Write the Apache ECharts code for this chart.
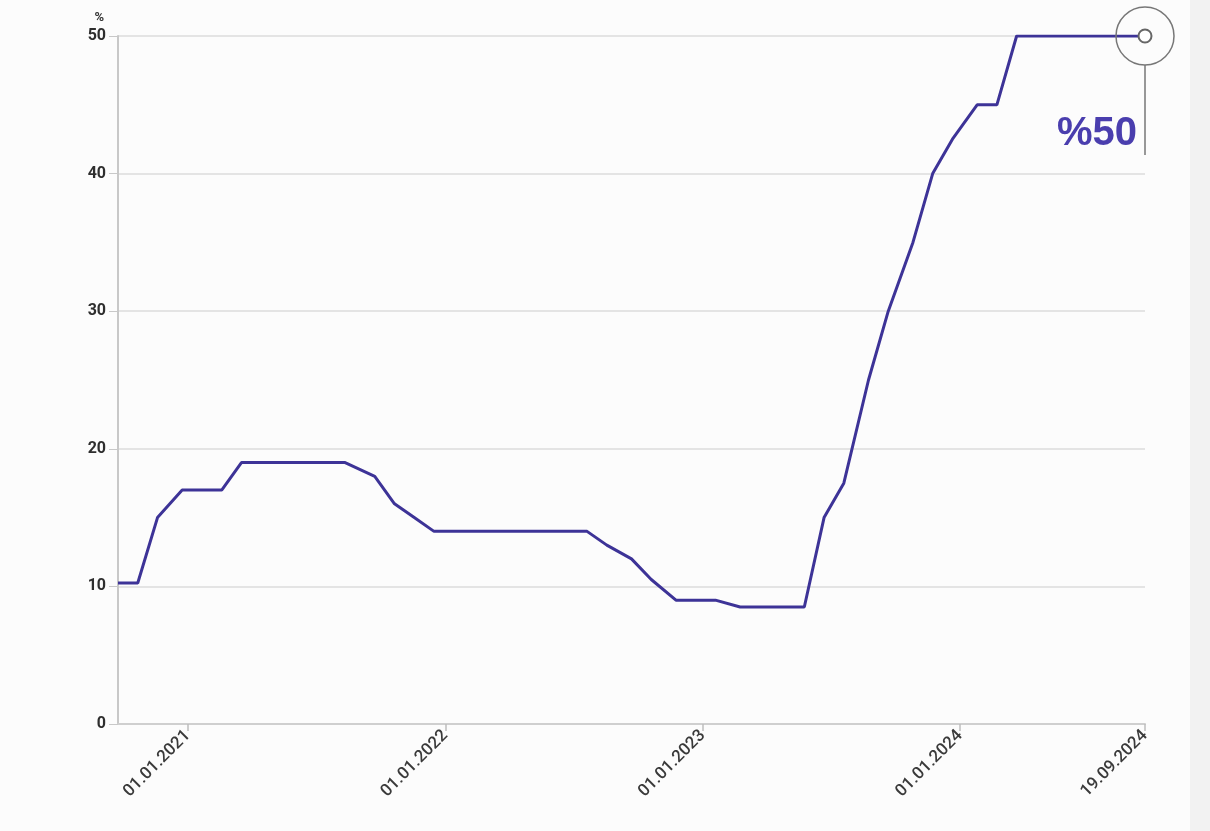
<!DOCTYPE html>
<html>
<head>
<meta charset="utf-8">
<script src="https://cdn.jsdelivr.net/npm/echarts@6/dist/echarts.min.js"></script>
<style>
html,body{margin:0;padding:0;width:1210px;height:831px;overflow:hidden;
background:linear-gradient(to right,#fcfcfc 0,#fcfcfc 1190px,#f2f2f2 1190px,#f2f2f2 1210px);}
#c{width:1210px;height:831px;}
</style>
</head>
<body>
<div id="c"></div>
<script>
// Policy rate (%) at each MPC meeting date
const dates = [
  '2020-09-24','2020-10-22','2020-11-19','2020-12-24',
  '2021-01-21','2021-02-18','2021-03-18','2021-04-15','2021-05-06','2021-06-17','2021-07-14','2021-08-12','2021-09-23','2021-10-21','2021-11-18','2021-12-16',
  '2022-01-20','2022-02-17','2022-03-17','2022-04-14','2022-05-26','2022-06-23','2022-07-21','2022-08-18','2022-09-22','2022-10-20','2022-11-24','2022-12-22',
  '2023-01-19','2023-02-23','2023-03-23','2023-04-27','2023-05-25','2023-06-22','2023-07-20','2023-08-24','2023-09-21','2023-10-26','2023-11-23','2023-12-21',
  '2024-01-25','2024-02-22','2024-03-21','2024-04-25','2024-06-27','2024-07-23','2024-08-20','2024-09-19'
];
const rates = [
  10.25,10.25,15,17,
  17,17,19,19,19,19,19,19,18,16,15,14,
  14,14,14,14,14,14,14,13,12,10.5,9,9,
  9,8.5,8.5,8.5,8.5,15,17.5,25,30,35,40,42.5,
  45,45,50,50,50,50,50,50
];
const tickDates = ['2021-01-01','2022-01-01','2023-01-01','2024-01-01','2024-09-19'];
const yTicks = [0,10,20,30,40,50];
const calloutText = '%50';

const toTs = s => new Date(s + 'T00:00:00Z').getTime();
const seriesData = dates.map((d,i)=>[toTs(d), rates[i]]);
const last = seriesData[seriesData.length-1];
const pad = n => (n<10?'0':'')+n;
const fmt = v => { const d=new Date(v); return pad(d.getUTCDate())+'.'+pad(d.getUTCMonth()+1)+'.'+d.getUTCFullYear(); };
const tickTs = tickDates.map(toTs);

const chart = echarts.init(document.getElementById('c'), null, {renderer:'canvas'});
chart.setOption({
  animation:false,
  backgroundColor:'transparent',
  grid:{left:118,right:65,top:36,bottom:107,containLabel:false},
  xAxis:{
    type:'value',
    min:toTs(dates[0]),
    max:toTs(dates[dates.length-1]),
    axisLine:{show:true,lineStyle:{color:'#cfcfcf',width:2}},
    axisTick:{show:true,length:7,lineStyle:{color:'#bdbdbd',width:1.5},customValues:tickTs},
    axisLabel:{show:true,rotate:45,color:'#3a3a3a',fontSize:17,fontWeight:500,fontFamily:'Roboto',
      margin:9,customValues:tickTs,formatter:v=>fmt(v)},
    splitLine:{show:false}
  },
  yAxis:{
    type:'value',min:yTicks[0],max:yTicks[yTicks.length-1],interval:10,
    name:'%',nameLocation:'end',nameGap:12,
    nameTextStyle:{color:'#333',fontSize:13,fontWeight:'bold',fontFamily:'Roboto',align:'right',padding:[0,14,0,0]},
    axisLine:{show:true,lineStyle:{color:'#c8c8c8',width:2}},
    axisTick:{show:true,length:9,lineStyle:{color:'#c8c8c8',width:1}},
    axisLabel:{color:'#2e2e2e',fontSize:16,fontWeight:'bold',fontFamily:'Roboto',margin:12},
    splitLine:{show:true,lineStyle:{color:'#e4e4e4',width:2}}
  },
  series:[{
    type:'line',
    data:seriesData,
    showSymbol:false,
    lineStyle:{color:'#3d3397',width:3},
    itemStyle:{color:'#3d3397'},
    markPoint:{
      symbol:'circle',symbolSize:13,
      itemStyle:{color:'#ffffff',borderColor:'#666',borderWidth:2},
      label:{show:false},
      data:[{coord:last}]
    }
  }]
});

const p = chart.convertToPixel({gridIndex:0}, last);
chart.setOption({
  graphic:[
    {type:'circle',shape:{cx:p[0],cy:p[1],r:29},style:{fill:'none',stroke:'#777',lineWidth:1.5},z:10},
    {type:'line',shape:{x1:p[0],y1:p[1]+29,x2:p[0],y2:p[1]+119},style:{stroke:'#777',lineWidth:1.5},z:10},
    {type:'text',x:p[0]-8,y:p[1]+118,style:{text:calloutText,fill:'#4a3eae',font:'bold 40px "Liberation Sans", Arial, sans-serif',textAlign:'right',textVerticalAlign:'bottom'},z:10}
  ]
});
</script>
</body>
</html>
